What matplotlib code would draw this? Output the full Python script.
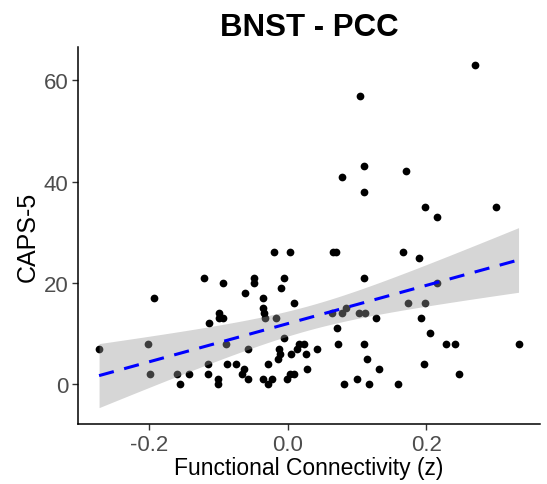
import numpy as np
import matplotlib
matplotlib.use("Agg")
import matplotlib.pyplot as plt

plt.rcParams['font.family'] = ['Liberation Sans', 'DejaVu Sans']

# functional connectivity (z) and CAPS-5 scores
fc = [-0.272, -0.193, -0.202, -0.199, -0.159, -0.143, -0.156, -0.121, -0.114, -0.115,
      -0.115, -0.100, -0.100, -0.099, -0.099, -0.093, -0.093, -0.089, -0.0875, -0.075,
      -0.066, -0.063, -0.057, -0.0616, -0.057, -0.0486, -0.0486, -0.036, -0.035, -0.034,
      -0.033, -0.019, 0.004, -0.005, -0.0097, 0.0087, -0.017, -0.006, -0.013, -0.011,
      -0.0136, -0.036, -0.029, -0.022, -0.029, -0.001, 0.003, 0.009, 0.005, 0.013,
      0.016, 0.0235, 0.027, 0.028, 0.042, 0.066, 0.070, 0.167, 0.190, 0.110,
      0.215, 0.173, 0.198, 0.0634, 0.078, 0.084, 0.103, 0.112, 0.127, 0.193,
      0.0707, 0.206, 0.0725, 0.110, 0.228, 0.242, 0.333, 0.115, 0.132, 0.196,
      0.247, 0.081, 0.100, 0.117, 0.159, 0.270, 0.105, 0.110, 0.079, 0.110,
      0.171, 0.198, 0.215, 0.300]
caps = [7, 17, 8, 2, 2, 2, 0, 21, 12, 4,
        2, 1, 0, 14, 13, 13, 20, 8, 4, 4,
        2, 3, 1, 18, 7, 21, 20, 17, 15, 14,
        13, 26, 26, 21, 19, 16, 13, 9, 7, 6,
        5, 1, 0, 1, 4, 1, 2, 2, 6, 7,
        8, 8, 6, 3, 7, 26, 26, 26, 25, 21,
        20, 16, 16, 14, 14, 15, 14, 14, 13, 13,
        11, 10, 8, 8, 8, 8, 8, 5, 3, 4,
        2, 0, 1, 0, 0, 63, 57, 43, 41, 38,
        42, 35, 33, 35]

x = np.array(fc)
y = np.array(caps)

# linear fit with 95% confidence band (like geom_smooth(method="lm"))
n = len(x)
slope, intercept = np.polyfit(x, y, 1)
resid = y - (intercept + slope * x)
s = np.sqrt(np.sum(resid ** 2) / (n - 2))
xx = np.linspace(x.min(), x.max(), 80)
yy = intercept + slope * xx
se = s * np.sqrt(1 / n + (xx - x.mean()) ** 2 / np.sum((x - x.mean()) ** 2))
tq = 1.986
lo, hi = yy - tq * se, yy + tq * se

fig = plt.figure(figsize=(5.47, 4.85), dpi=100)
ax = fig.add_axes([0.1426, 0.1237, 0.987 - 0.1426, 0.901 - 0.1237])

ax.scatter(x, y, s=31, color='black', linewidths=0, zorder=2)
ax.fill_between(xx, lo, hi, color='#999999', alpha=0.4, linewidth=0, zorder=3)
ax.plot(xx, yy, color='blue', linewidth=2.2, linestyle=(0, (5, 3.5)), zorder=4)

ax.set_xlim(-0.3024, 0.3638)
ax.set_ylim(-7.9, 66.6)
ax.set_xticks([-0.2, 0.0, 0.2])
ax.set_xticklabels(['-0.2', '0.0', '0.2'])
ax.set_yticks([0, 20, 40, 60])

for side in ['top', 'right']:
    ax.spines[side].set_visible(False)
for side in ['left', 'bottom']:
    ax.spines[side].set_linewidth(1.1)
    ax.spines[side].set_color('black')
ax.tick_params(length=4, width=1.0, color='#333333', labelsize=16, labelcolor='#4D4D4D', pad=3)

ax.set_xlabel('Functional Connectivity (z)', fontsize=16.5, labelpad=1)
ax.set_ylabel('CAPS-5', fontsize=18, labelpad=3)
ax.set_title('BNST - PCC', fontsize=22.5, fontweight='bold', pad=9)

fig.savefig('out.png', dpi=100)
